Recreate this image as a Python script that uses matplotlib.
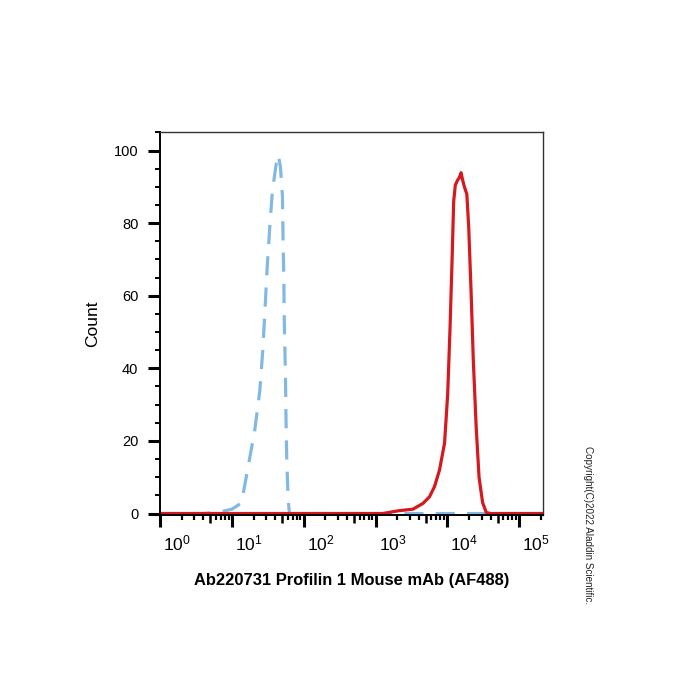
import matplotlib
matplotlib.use("Agg")
import matplotlib.pyplot as plt
import numpy as np
from matplotlib.transforms import ScaledTranslation
from matplotlib.ticker import LogLocator, NullFormatter, MultipleLocator

plt.rcParams['font.family'] = ['Liberation Sans', 'DejaVu Sans']
plt.rcParams['mathtext.fontset'] = 'custom'
plt.rcParams['mathtext.rm'] = 'Liberation Sans'
plt.rcParams['mathtext.it'] = 'Liberation Sans'

# isotype control (blue dashed)
iso_x = [1, 4.0, 7.1, 10, 13.6, 16.8, 20.8, 24.5, 26.7, 28.7, 30.9, 33.7, 36.7,
         42.6, 44.2, 47.4, 50.6, 51.6, 52.7, 53.7, 55.6, 56.8, 58.1, 60.5, 62.5, 64.0, 2.1e5]
iso_y = [0, 0, 0.5, 1.2, 2.9, 12.8, 22.9, 33.9, 44, 55, 67.3, 79, 89,
         98, 98.8, 95.5, 87.3, 75.3, 66, 52.4, 38.6, 24.8, 14.7, 4.6, 1, 0, 0]

# Profilin 1 stained (red)
ab_x = [1, 1259, 1738, 2138, 3311, 4571, 5623, 6607, 7762, 9120, 10090, 10890,
        11610, 12220, 12880, 13900, 14620, 15490, 16220, 17220, 18620, 19770,
        21380, 22910, 25120, 27540, 30900, 34670, 39810, 2.1e5]
ab_y = [0, 0, 0.5, 0.8, 1.2, 2.8, 4.6, 7.4, 12, 19.4, 33, 51.5,
        70, 86, 90.5, 91.9, 92.5, 93.9, 92, 90, 88, 79,
        60.7, 42.3, 23.9, 10, 3, 0.3, 0, 0]

decades = [1, 10, 100, 1000, 10000, 100000]
decade_labels = [r'$10^{%d}$' % i for i in range(6)]

fig = plt.figure(figsize=(7, 7), dpi=100)
ax = fig.add_axes([0.2286, 0.2643, 0.5471, 0.5476])

ax.plot(iso_x, iso_y, color='#82b9e4', lw=2.3, linestyle=(0, (6, 3.8)))
ax.plot(ab_x, ab_y, color='#d41a1f', lw=2.3)

ax.set_xscale('log')
ax.set_xlim(1, 10 ** 5.33)
ax.set_ylim(-0.4, 105.2)

ax.set_xticks(decades)
ax.set_xticklabels(decade_labels, fontsize=12.5)
ax.xaxis.set_minor_locator(LogLocator(base=10, subs=[2, 3, 4, 6, 7, 8, 9], numticks=20))
ax.xaxis.set_minor_formatter(NullFormatter())
ax.tick_params(axis='x', which='major', length=8.5, width=2.2, pad=5, color='black')
ax.tick_params(axis='x', which='minor', length=3.8, width=1.6, color='black')

# medium ticks at 5 x 10^n
sec = ax.secondary_xaxis('bottom')
sec.set_xticks([5 * d for d in decades[:-1]])
sec.tick_params(axis='x', length=6, width=1.8, labelbottom=False, color='black')
sec.spines['bottom'].set_visible(False)

for lab in ax.get_xticklabels():
    lab.set_transform(lab.get_transform() + ScaledTranslation(0.17, 0, fig.dpi_scale_trans))

ax.set_yticks([0, 20, 40, 60, 80, 100])
ax.yaxis.set_minor_locator(MultipleLocator(5))
ax.tick_params(axis='y', which='major', length=8.5, width=2.2, pad=7, labelsize=10.5)
ax.tick_params(axis='y', which='minor', length=3.8, width=1.4)

ax.spines['left'].set_linewidth(1.4)
ax.spines['bottom'].set_linewidth(1.4)
ax.spines['top'].set_linewidth(1.0)
ax.spines['right'].set_linewidth(1.0)
ax.spines['top'].set_color('#333333')
ax.spines['right'].set_color('#333333')

ax.set_ylabel('Count', fontsize=12.5, labelpad=10)
ax.set_xlabel('Ab220731 Profilin 1 Mouse mAb (AF488)', fontsize=11.9, fontweight='bold', labelpad=14)

fig.text(0.84, 0.25, 'Copyright(C)2022 Aladdin Scientific.', rotation=-90,
         fontsize=7.1, ha='center', va='center', color='#222222')

fig.savefig('out.png', dpi=100, facecolor='white')
